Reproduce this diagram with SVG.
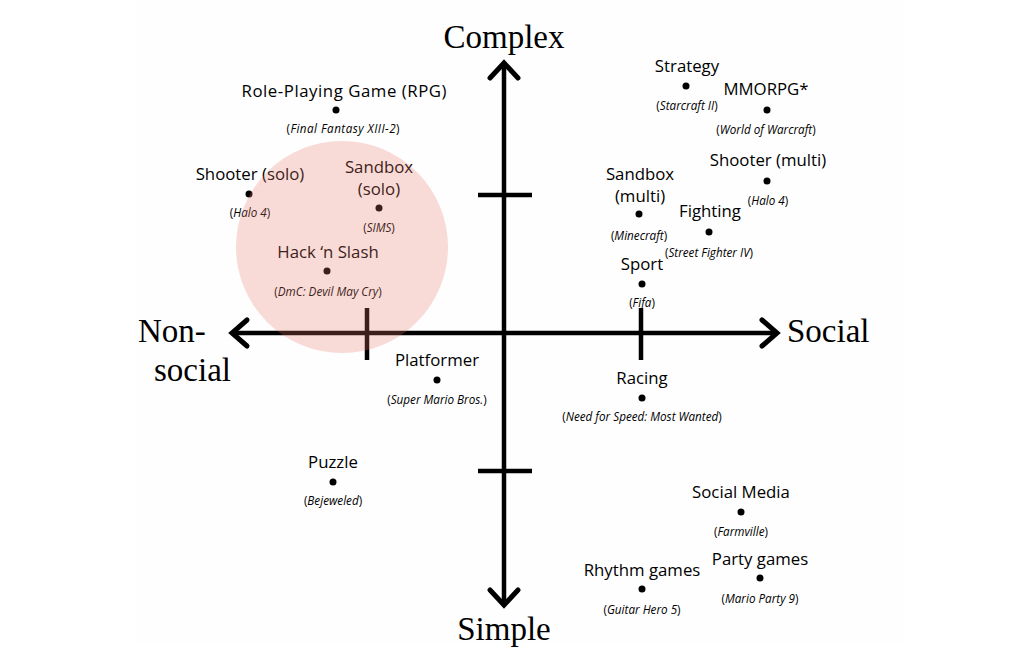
<svg xmlns="http://www.w3.org/2000/svg" width="1009" height="665" viewBox="0 0 1009 665">
<style>
.ax{stroke:#000;stroke-width:4.5;fill:none}
.ah{stroke:#000;stroke-width:5;fill:none;stroke-linecap:round;stroke-linejoin:miter}
.big{font-family:"Liberation Serif",serif;font-size:33px;fill:#000}
.lb{font-family:"Open Sans","Liberation Sans",sans-serif;font-size:16.8px;fill:#000;text-anchor:middle}
.sb{font-family:"Open Sans","Liberation Sans",sans-serif;font-size:11.7px;fill:#000;text-anchor:middle}
.it{font-style:italic}
.dot{fill:#000}
</style>
<rect width="1009" height="665" fill="#fff"/>
<rect x="135" y="0" width="770" height="645" fill="#fefefe"/>
<g id="axes">
<line class="ax" x1="504" y1="64" x2="504" y2="604"/>
<line class="ax" x1="233" y1="333" x2="776" y2="333"/>
<line class="ax" x1="478" y1="195" x2="532" y2="195"/>
<line class="ax" x1="478" y1="471" x2="532" y2="471"/>
<line class="ax" x1="367" y1="308" x2="367" y2="360"/>
<line class="ax" x1="641" y1="308" x2="641" y2="360"/>
<polyline class="ah" points="490,78 504,63 518,78"/>
<polyline class="ah" points="490,590 504,605 518,590"/>
<polyline class="ah" points="247,320 232,333 247,346"/>
<polyline class="ah" points="762,320 777,333 762,346"/>
</g>
<g id="axis-labels">
<text class="big" x="504" y="48" text-anchor="middle">Complex</text>
<text class="big" x="504" y="640" text-anchor="middle">Simple</text>
<text class="big" x="787" y="342">Social</text>
<text class="big" x="138" y="342">Non-</text>
<text class="big" x="154" y="381">social</text>
</g>
<g id="rpg"><text class="lb" x="344" y="97" textLength="205" lengthAdjust="spacing">Role-Playing Game (RPG)</text><circle class="dot" cx="336" cy="110" r="3.5"/><text class="sb" x="343" y="133" textLength="113" lengthAdjust="spacing">(<tspan class="it">Final Fantasy XIII-2</tspan>)</text></g>
<g id="shooter-solo"><text class="lb" x="250" y="180">Shooter (solo)</text><circle class="dot" cx="249" cy="194" r="3.5"/><text class="sb" x="250" y="217">(<tspan class="it">Halo 4</tspan>)</text></g>
<g id="sandbox-solo"><text class="lb" x="379" y="173">Sandbox</text><text class="lb" x="379" y="195">(solo)</text><circle class="dot" cx="379" cy="208" r="3.5"/><text class="sb" x="379" y="232">(<tspan class="it">SIMS</tspan>)</text></g>
<g id="hack-slash"><text class="lb" x="328" y="258">Hack ‘n Slash</text><circle class="dot" cx="327" cy="271" r="3.5"/><text class="sb" x="328" y="296">(<tspan class="it">DmC: Devil May Cry</tspan>)</text></g>
<g id="platformer"><text class="lb" x="437" y="366">Platformer</text><circle class="dot" cx="437" cy="380" r="3.5"/><text class="sb" x="437" y="404">(<tspan class="it">Super Mario Bros.</tspan>)</text></g>
<g id="puzzle"><text class="lb" x="333" y="468">Puzzle</text><circle class="dot" cx="333" cy="482" r="3.5"/><text class="sb" x="333" y="505">(<tspan class="it">Bejeweled</tspan>)</text></g>
<g id="strategy"><text class="lb" x="687" y="72">Strategy</text><circle class="dot" cx="686" cy="86" r="3.5"/><text class="sb" x="687" y="110">(<tspan class="it">Starcraft II</tspan>)</text></g>
<g id="mmorpg"><text class="lb" x="766" y="95">MMORPG*</text><circle class="dot" cx="767" cy="110" r="3.5"/><text class="sb" x="766" y="134">(<tspan class="it">World of Warcraft</tspan>)</text></g>
<g id="shooter-multi"><text class="lb" x="768" y="166">Shooter (multi)</text><circle class="dot" cx="767" cy="181" r="3.5"/><text class="sb" x="768" y="205">(<tspan class="it">Halo 4</tspan>)</text></g>
<g id="sandbox-multi"><text class="lb" x="640" y="180">Sandbox</text><text class="lb" x="640" y="202">(multi)</text><circle class="dot" cx="639" cy="214" r="3.5"/><text class="sb" x="639" y="240">(<tspan class="it">Minecraft</tspan>)</text></g>
<g id="fighting"><text class="lb" x="710" y="217">Fighting</text><circle class="dot" cx="709" cy="232" r="3.5"/><text class="sb" x="709" y="257">(<tspan class="it">Street Fighter IV</tspan>)</text></g>
<g id="sport"><text class="lb" x="642" y="270">Sport</text><circle class="dot" cx="642" cy="284" r="3.5"/><text class="sb" x="642" y="307">(<tspan class="it">Fifa</tspan>)</text></g>
<g id="racing"><text class="lb" x="642" y="384">Racing</text><circle class="dot" cx="642" cy="398" r="3.5"/><text class="sb" x="642" y="421">(<tspan class="it">Need for Speed: Most Wanted</tspan>)</text></g>
<g id="social-media"><text class="lb" x="741" y="498">Social Media</text><circle class="dot" cx="741" cy="512" r="3.5"/><text class="sb" x="741" y="536">(<tspan class="it">Farmville</tspan>)</text></g>
<g id="party-games"><text class="lb" x="760" y="565">Party games</text><circle class="dot" cx="760" cy="578" r="3.5"/><text class="sb" x="760" y="603">(<tspan class="it">Mario Party 9</tspan>)</text></g>
<g id="rhythm-games"><text class="lb" x="642" y="576">Rhythm games</text><circle class="dot" cx="642" cy="589" r="3.5"/><text class="sb" x="642" y="614">(<tspan class="it">Guitar Hero 5</tspan>)</text></g>
<g id="highlight"><circle cx="342" cy="247" r="106" fill="#e7766a" fill-opacity="0.26"/></g>
</svg>
